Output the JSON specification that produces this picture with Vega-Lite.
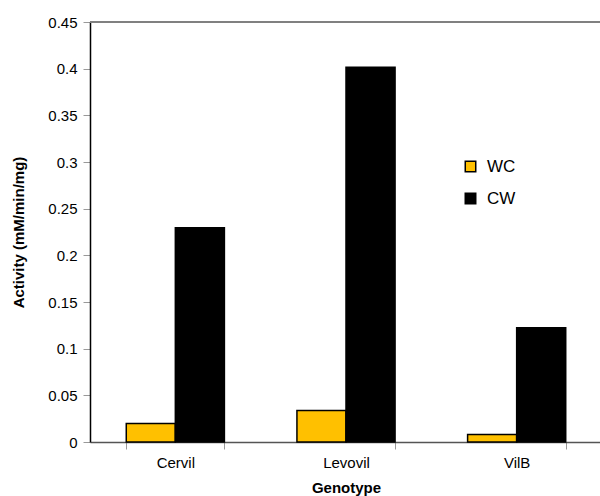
{
  "$schema": "https://vega.github.io/schema/vega-lite/v6.json",
  "autosize": "none",
  "width": 512,
  "height": 420,
  "padding": {"left": 90, "top": 22, "right": 0, "bottom": 54},
  "background": "white",
  "config": {
    "font": "Liberation Sans",
    "view": {"stroke": null}
  },
  "data": {
    "values": [
      {"Genotype": "Cervil", "Series": "WC", "Activity": 0.0198},
      {"Genotype": "Cervil", "Series": "CW", "Activity": 0.2295},
      {"Genotype": "Levovil", "Series": "WC", "Activity": 0.0337},
      {"Genotype": "Levovil", "Series": "CW", "Activity": 0.4016},
      {"Genotype": "VilB", "Series": "WC", "Activity": 0.008},
      {"Genotype": "VilB", "Series": "CW", "Activity": 0.1223}
    ]
  },
  "layer": [
    {
      "mark": {"type": "bar", "stroke": "black", "strokeWidth": 1.5},
      "encoding": {
        "x": {
          "field": "Genotype", "type": "nominal",
          "sort": ["Cervil", "Levovil", "VilB"],
          "scale": {"paddingInner": 0.425, "paddingOuter": 0.2125},
          "axis": {
            "title": "Genotype", "titleFontSize": 15, "titleFontWeight": "bold", "titleColor": "black", "titlePadding": 10,
            "labelAngle": 0, "labelFontSize": 15, "labelColor": "black", "labelPadding": 6,
            "tickBand": "extent", "tickColor": "#999999", "tickSize": 7, "tickWidth": 1,
            "domainColor": "#555555", "domainWidth": 1.5
          }
        },
        "xOffset": {"field": "Series", "type": "nominal", "sort": ["WC", "CW"], "scale": {"paddingInner": 0, "paddingOuter": 0}},
        "y": {
          "field": "Activity", "type": "quantitative",
          "scale": {"domain": [0, 0.45], "nice": false},
          "axis": {
            "title": "Activity (mM/min/mg)", "titleFontSize": 15, "titleFontWeight": "bold", "titleColor": "black", "titlePadding": 21,
            "values": [0, 0.05, 0.1, 0.15, 0.2, 0.25, 0.3, 0.35, 0.4, 0.45],
            "format": ".2~f", "labelFontSize": 15, "labelColor": "black", "labelPadding": 6,
            "tickColor": "#999999", "tickSize": 7, "grid": false,
            "domainColor": "black", "domainWidth": 1.5
          }
        },
        "color": {
          "field": "Series", "type": "nominal", "sort": ["WC", "CW"],
          "scale": {"domain": ["WC", "CW"], "range": ["#FFC000", "#000000"]},
          "legend": {
            "title": null, "orient": "none", "legendX": 372, "legendY": 136,
            "symbolType": "square", "symbolSize": 110, "symbolStrokeColor": "black", "symbolStrokeWidth": 1.5,
            "labelFontSize": 17, "labelColor": "black", "labelOffset": 8, "rowPadding": 14
          }
        }
      }
    },
    {
      "mark": {"type": "rule", "color": "#808080", "strokeWidth": 2},
      "encoding": {"y": {"datum": 0.45}}
    }
  ]
}
